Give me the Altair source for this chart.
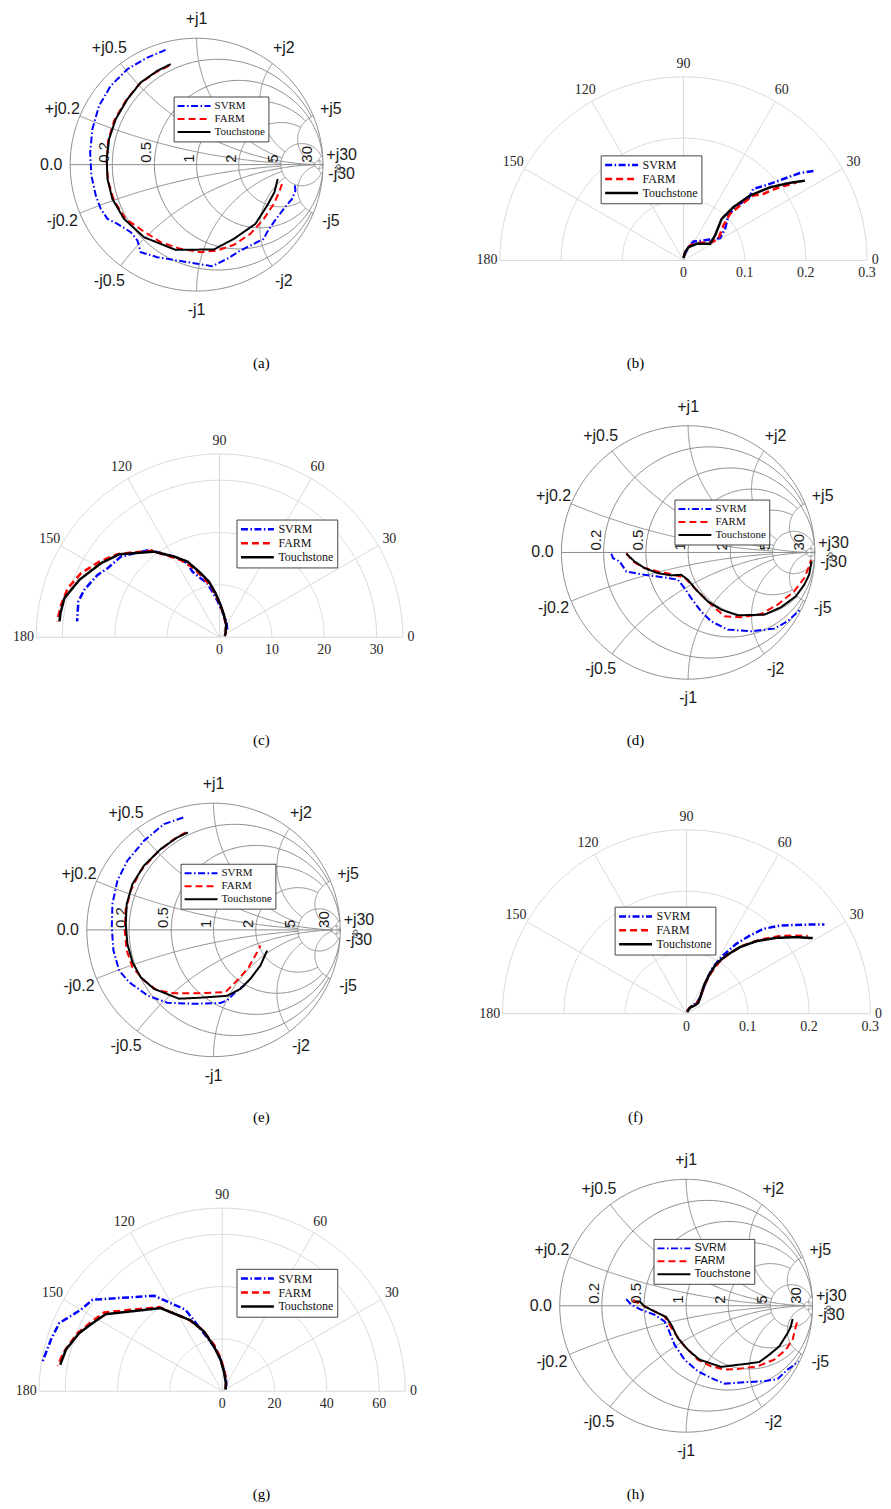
import numpy as np
import pandas as pd
import altair as alt

SERIES = ["SVRM", "FARM", "Touchstone"]
COLORS = ["#0000ff", "#ff0000", "#000000"]
DASHES = [[7, 2.5, 1.5, 2.5], [7, 4], [1, 0]]

# ---------------- Smith-chart data: reflection coefficient (real, imag) ----------------
A_SVRM_RE = [-0.245, -0.389, -0.547, -0.679, -0.771, -0.824, -0.842, -0.832, -0.797, -0.758, -0.705, -0.626, -0.521, -0.468,
             -0.442, -0.311, -0.153, 0.005, 0.124, 0.242, 0.347, 0.532, 0.558, 0.611, 0.689, 0.755, 0.782, 0.776]
A_SVRM_IM = [0.908, 0.847, 0.755, 0.624, 0.466, 0.282, 0.097, -0.087, -0.245, -0.350, -0.429, -0.468, -0.534, -0.600,
             -0.692, -0.732, -0.758, -0.784, -0.803, -0.745, -0.679, -0.587, -0.534, -0.455, -0.350, -0.271, -0.205, -0.153]
A_FARM_RE = [-0.218, -0.324, -0.455, -0.561, -0.653, -0.700, -0.711, -0.700, -0.653, -0.561, -0.429, -0.284, -0.126, 0.032,
             0.163, 0.295, 0.426, 0.532, 0.611, 0.658, 0.684]
A_FARM_IM = [0.782, 0.729, 0.637, 0.505, 0.347, 0.189, 0.032, -0.126, -0.284, -0.429, -0.521, -0.613, -0.666, -0.692,
             -0.679, -0.634, -0.547, -0.429, -0.311, -0.205, -0.126]
A_TOUCH_RE = [-0.205, -0.311, -0.442, -0.547, -0.639, -0.692, -0.711, -0.705, -0.666, -0.574, -0.416, -0.166, 0.137, 0.295,
              0.466, 0.558, 0.616, 0.642]
A_TOUCH_IM = [0.795, 0.742, 0.650, 0.518, 0.361, 0.203, 0.045, -0.113, -0.271, -0.429, -0.574, -0.674, -0.671, -0.587,
              -0.468, -0.324, -0.218, -0.113]

D_SVRM_RE = [-0.606, -0.593, -0.541, -0.488, -0.344, -0.186, -0.081, -0.029, 0.024, 0.102, 0.181, 0.312, 0.496, 0.680, 0.785, 0.885]
D_SVRM_IM = [-0.010, -0.045, -0.071, -0.150, -0.176, -0.197, -0.215, -0.281, -0.360, -0.465, -0.543, -0.609, -0.622, -0.601, -0.543, -0.451]
D_FARM_RE = [-0.488, -0.436, -0.344, -0.239, -0.134, -0.029, 0.050, 0.155, 0.286, 0.417, 0.575, 0.706, 0.837, 0.916, 0.955, 0.969]
D_FARM_IM = [-0.005, -0.071, -0.123, -0.150, -0.171, -0.197, -0.281, -0.386, -0.504, -0.512, -0.486, -0.412, -0.307, -0.202, -0.110, -0.058]
D_TOUCH_RE = [-0.488, -0.423, -0.344, -0.239, -0.134, -0.055, -0.003, 0.063, 0.155, 0.260, 0.391, 0.601, 0.732, 0.850, 0.916, 0.955, 0.974]
D_TOUCH_IM = [-0.010, -0.071, -0.123, -0.163, -0.181, -0.176, -0.215, -0.294, -0.386, -0.451, -0.496, -0.491, -0.433, -0.346, -0.255, -0.176, -0.071]

E_SVRM_RE = [-0.239, -0.391, -0.549, -0.680, -0.759, -0.798, -0.803, -0.790, -0.745, -0.667, -0.575, -0.522, -0.365, -0.155,
             0.055, 0.108, 0.160, 0.239, 0.291]
E_SVRM_IM = [0.887, 0.835, 0.703, 0.546, 0.388, 0.205, 0.021, -0.163, -0.320, -0.412, -0.478, -0.517, -0.575, -0.583,
             -0.577, -0.556, -0.504, -0.438, -0.386]
E_FARM_RE = [-0.220, -0.312, -0.444, -0.575, -0.654, -0.693, -0.701, -0.685, -0.640, -0.549, -0.444, -0.312, -0.102, 0.094,
             0.199, 0.278, 0.344, 0.370]
E_FARM_IM = [0.769, 0.717, 0.612, 0.467, 0.310, 0.152, -0.005, -0.163, -0.294, -0.399, -0.478, -0.499, -0.499, -0.491,
             -0.386, -0.294, -0.176, -0.123]
E_TOUCH_RE = [-0.202, -0.286, -0.417, -0.549, -0.640, -0.685, -0.693, -0.680, -0.640, -0.575, -0.470, -0.273, -0.102, 0.108,
              0.213, 0.291, 0.370, 0.423]
E_TOUCH_IM = [0.769, 0.730, 0.638, 0.507, 0.362, 0.205, 0.047, -0.110, -0.255, -0.373, -0.465, -0.543, -0.535, -0.520,
              -0.465, -0.386, -0.281, -0.163]

H_SVRM_RE = [-0.474, -0.434, -0.355, -0.250, -0.171, -0.145, -0.092, -0.013, 0.092, 0.197, 0.303, 0.461, 0.618, 0.724, 0.803, 0.890]
H_SVRM_IM = [0.053, 0.008, -0.032, -0.071, -0.124, -0.176, -0.308, -0.426, -0.518, -0.571, -0.616, -0.605, -0.597, -0.579, -0.505, -0.440]
H_FARM_RE = [-0.421, -0.368, -0.276, -0.171, -0.092, -0.013, 0.092, 0.197, 0.303, 0.408, 0.566, 0.697, 0.789, 0.842, 0.868, 0.882]
H_FARM_IM = [0.047, 0.016, -0.032, -0.084, -0.216, -0.321, -0.426, -0.479, -0.505, -0.500, -0.479, -0.426, -0.347, -0.268, -0.163, -0.116]
H_TOUCH_RE = [-0.403, -0.368, -0.329, -0.250, -0.158, -0.118, -0.066, 0.013, 0.105, 0.276, 0.355, 0.487, 0.579, 0.658, 0.737, 0.803, 0.829, 0.842]
H_TOUCH_IM = [0.034, 0.034, -0.005, -0.045, -0.089, -0.150, -0.255, -0.347, -0.426, -0.484, -0.474, -0.458, -0.445, -0.387, -0.321, -0.216, -0.163, -0.105]

# ---------------- Polar data: angle (deg), magnitude ----------------
B_SVRM_ANG = [82.4, 69.3, 62.2, 45.0, 38.2, 31.3, 37.2, 45.0, 45.9, 43.5, 45.7, 42.2, 39.2, 36.9, 34.3]
B_SVRM_MAG = [0.0082, 0.0232, 0.0350, 0.0461, 0.0553, 0.0700, 0.0853, 0.1038, 0.1249, 0.1461, 0.1633, 0.1835, 0.2105, 0.2379, 0.2600]
B_FARM_ANG = [90.0, 75.1, 66.0, 46.7, 32.9, 31.7, 41.2, 45.0, 44.1, 42.9, 39.8, 37.8, 34.6]
B_FARM_MAG = [0.0054, 0.0169, 0.0268, 0.0396, 0.0550, 0.0671, 0.0867, 0.1076, 0.1288, 0.1557, 0.1698, 0.1925, 0.2246]
B_TOUCH_ANG = [90.0, 78.7, 69.3, 51.3, 32.0, 38.3, 47.4, 46.9, 44.3, 40.2, 36.1, 33.3]
B_TOUCH_MAG = [0.0038, 0.0139, 0.0232, 0.0348, 0.0513, 0.0658, 0.0923, 0.1192, 0.1518, 0.1851, 0.2151, 0.2374]

C_SVRM_ANG = [45.0, 66.4, 84.1, 92.7, 99.1, 102.8, 107.7, 112.5, 113.5, 117.9, 123.6, 128.9, 135.5, 140.7, 148.3, 152.9,
              160.6, 165.7, 169.6, 173.6]
C_SVRM_MAG = [2.06, 3.32, 4.97, 6.86, 8.86, 10.60, 11.85, 13.59, 15.42, 17.22, 19.12, 21.42, 22.87, 24.33, 25.11, 26.15,
              27.36, 27.81, 27.53, 27.37]
C_FARM_ANG = [24.1, 60.9, 81.4, 91.1, 98.5, 104.8, 110.3, 116.7, 122.6, 127.8, 135.1, 140.8, 147.8, 155.2, 162.1, 168.4, 174.4]
C_FARM_MAG = [1.25, 2.61, 4.68, 6.85, 9.49, 11.68, 14.06, 16.53, 18.51, 20.88, 23.00, 25.11, 27.13, 29.14, 30.46, 30.88, 31.16]
C_TOUCH_ANG = [10.6, 35.7, 62.2, 79.2, 88.2, 95.2, 100.8, 107.4, 113.0, 119.4, 127.4, 140.4, 148.0, 157.7, 165.8, 171.3, 174.3]
C_TOUCH_MAG = [1.03, 1.41, 2.72, 4.39, 6.22, 8.47, 10.84, 13.16, 15.71, 17.69, 20.58, 24.86, 26.69, 28.92, 30.54, 30.72, 30.71]

F_SVRM_ANG = [75.7, 55.8, 46.8, 50.0, 56.3, 59.5, 60.3, 57.9, 54.5, 51.0, 47.9, 43.4, 37.4, 32.9]
F_SVRM_MAG = [0.0045, 0.0144, 0.0238, 0.0354, 0.0489, 0.0662, 0.0875, 0.1122, 0.1400, 0.1640, 0.1863, 0.2092, 0.2392, 0.2681]
F_FARM_ANG = [75.7, 59.0, 45.0, 46.5, 54.8, 58.5, 59.0, 57.7, 54.5, 50.3, 45.3, 39.8, 35.4, 32.6]
F_FARM_MAG = [0.0045, 0.0127, 0.0215, 0.0299, 0.0451, 0.0624, 0.0791, 0.0995, 0.1214, 0.1445, 0.1696, 0.1976, 0.2198, 0.2349]
F_TOUCH_ANG = [68.0, 61.1, 45.0, 42.5, 53.1, 58.6, 59.7, 59.1, 55.6, 51.3, 46.1, 40.2, 34.9, 30.9]
F_TOUCH_MAG = [0.0029, 0.0112, 0.0192, 0.0258, 0.0407, 0.0572, 0.0754, 0.0949, 0.1151, 0.1390, 0.1642, 0.1917, 0.2183, 0.2402]

G_SVRM_ANG = [49.2, 77.5, 90.0, 97.1, 104.5, 110.6, 114.2, 125.5, 144.8, 150.0, 157.3, 163.2, 170.5]
G_SVRM_MAG = [2.52, 5.86, 10.17, 15.38, 20.36, 27.16, 34.15, 44.85, 60.68, 62.37, 67.54, 68.38, 69.61]
G_FARM_ANG = [35.0, 68.1, 83.3, 92.9, 100.1, 108.0, 114.9, 126.9, 146.3, 152.3, 158.1, 165.8, 171.2]
G_FARM_MAG = [1.55, 4.11, 7.68, 12.73, 18.08, 24.73, 30.15, 40.23, 54.27, 56.70, 59.62, 62.29, 63.70]
G_TOUCH_ANG = [26.6, 66.3, 85.2, 93.0, 100.5, 107.0, 114.0, 126.5, 146.5, 152.3, 157.9, 165.1, 170.7]
G_TOUCH_MAG = [1.42, 3.47, 7.65, 12.10, 17.46, 23.93, 29.65, 39.55, 53.39, 56.02, 59.03, 61.84, 62.75]

# ---------------- grid / tick values ----------------
SMITH_VALUES = [0.2, 0.5, 1, 2, 5, 30]
SMITH_ENDS = [5, 30, 5, 5, 30, np.inf]
SMITH_LABELS = ["0.2", "0.5", "1", "2", "5", "30"]
POLAR_ANGLES = [0, 30, 60, 90, 120, 150, 180]
B_TICKS = [0, 0.1, 0.2, 0.3]
C_TICKS = [0, 10, 20, 30]
F_TICKS = [0, 0.1, 0.2, 0.3]
G_TICKS = [0, 20, 40, 60]
B_RMAX, C_RMAX, F_RMAX, G_RMAX = 0.3, 35, 0.3, 70

SANS = "Liberation Sans"
SERIF = "Liberation Serif"

# ---------------- layout ----------------
H = 340
COL_X = [8, 446]
COL_W = [437, 437]
ROW_PITCH = 378
CAP_DX = [34.5, -28.5]


def gam(z):
    return (z - 1) / (z + 1)


def smith_grid_frame():
    rows = []

    def add(gid, us, vs):
        for i, (u, v) in enumerate(zip(us, vs)):
            rows.append((gid, i, float(u), float(v)))

    t = np.linspace(0, 2 * np.pi, 361)
    add(0, np.cos(t), np.sin(t))
    add(1, [-1.0, 1.0], [0.0, 0.0])
    gid = 2
    for v, e in zip(SMITH_VALUES, SMITH_ENDS):
        c, rad = v / (1 + v), 1 / (1 + v)
        if np.isinf(e):
            p0 = 0.0
        else:
            g = gam(v + 1j * e)
            p0 = np.arctan2(g.imag, g.real - c)
        t = np.linspace(p0, 2 * np.pi - p0, 240)
        add(gid, c + rad * np.cos(t), rad * np.sin(t))
        gid += 1
        g0 = gam(1j * v)
        a0 = np.arctan2(g0.imag - 1 / v, g0.real - 1) % (2 * np.pi)
        if np.isinf(e):
            a1 = 1.5 * np.pi
        else:
            g1 = gam(e + 1j * v)
            a1 = np.arctan2(g1.imag - 1 / v, g1.real - 1) % (2 * np.pi)
        t = np.linspace(a0, a1, 200)
        xs = 1 + np.cos(t) / v
        ys = 1 / v + np.sin(t) / v
        add(gid, xs, ys)
        add(gid + 1, xs, -ys)
        gid += 2
    return pd.DataFrame(rows, columns=["g", "i", "x", "y"])


def smith_label_frames():
    rows = [(-1.15, 0.0, "0.0")]
    for v, lab in zip(SMITH_VALUES, SMITH_LABELS):
        a = np.angle(gam(1j * v))
        rows.append((1.15 * np.cos(a), 1.15 * np.sin(a), "+j" + lab))
        rows.append((1.15 * np.cos(a), -1.15 * np.sin(a), "-j" + lab))
    react = pd.DataFrame(rows, columns=["x", "y", "t"])
    res = pd.DataFrame({"x": [(v - 1) / (v + 1) for v in SMITH_VALUES], "y": 0.0, "t": SMITH_LABELS})
    inf = pd.DataFrame({"x": [1.12], "y": [-0.03], "t": ["∞"]})
    return react, res, inf


SMITH_GRID = smith_grid_frame()
SMITH_REACT, SMITH_RES, SMITH_INF = smith_label_frames()


def curve_frame(parts, kx, ky):
    rows = []
    for name, xs, ys in parts:
        for i, (u, v) in enumerate(zip(xs, ys)):
            rows.append({"s": name, "i": i, kx: u, ky: v})
    return pd.DataFrame(rows)


def make_legend(lx, ly, font, size, sw, clip):
    return alt.Legend(orient="none", legendX=lx, legendY=ly, title=None, symbolType="stroke",
                      symbolSize=1089, symbolStrokeWidth=sw, clipHeight=clip, labelFont=font,
                      labelFontSize=size, labelColor="#111111", fillColor="white", strokeColor="#444444",
                      padding=3, rowPadding=0, labelOffset=3, symbolOffset=0, labelLimit=300)


def encodings(cx, cy, s, col, row):
    ox, oy, W = COL_X[col], 8 + ROW_PITCH * row, COL_W[col]
    xs = alt.Scale(domain=[(ox - cx) / s, (ox + W - cx) / s], nice=False, zero=False)
    ys = alt.Scale(domain=[-(oy + H - cy) / s, (cy - oy) / s], nice=False, zero=False)
    return alt.X("x:Q", scale=xs, axis=None), alt.Y("y:Q", scale=ys, axis=None), W


def caption(letter, col):
    return alt.TitleParams(text="(" + letter + ")", orient="bottom", offset=6, dx=CAP_DX[col], font=SERIF,
                           fontSize=15, fontWeight="normal", color="#000000", anchor="middle")


def smith_panel(letter, parts, cx, cy, R, col, row, leg, legfont):
    X, Y, W = encodings(cx, cy, R, col, row)
    grid = alt.Chart(SMITH_GRID).mark_line(color="#8c8c8c", strokeWidth=1).encode(
        X, Y, detail="g:N", order=alt.Order("i:Q"))
    react = alt.Chart(SMITH_REACT).mark_text(font=SANS, fontSize=16, color="#1a1a1a").encode(X, Y, text="t:N")
    res = alt.Chart(SMITH_RES).mark_text(font=SANS, fontSize=15, color="#1a1a1a", angle=270, align="left",
                                         baseline="bottom", dx=2).encode(X, Y, text="t:N")
    inf = alt.Chart(SMITH_INF).mark_text(font=SANS, fontSize=13, color="#555555", angle=270).encode(X, Y, text="t:N")
    lg = make_legend(leg[0], leg[1], legfont, 11, 2, 13)
    lines = alt.Chart(curve_frame(parts, "x", "y")).mark_line(strokeWidth=2).encode(
        X, Y,
        color=alt.Color("s:N", scale=alt.Scale(domain=SERIES, range=COLORS), legend=lg),
        strokeDash=alt.StrokeDash("s:N", scale=alt.Scale(domain=SERIES, range=DASHES), legend=lg),
        order=alt.Order("i:Q"))
    return alt.layer(grid, react, res, inf, lines).properties(width=W, height=H, title=caption(letter, col))


def polar_panel(letter, parts, ticks, rmax, cx, cy, Rpx, col, row, leg):
    X, Y, W = encodings(cx, cy, Rpx / rmax, col, row)
    rings = [t for t in ticks if t > 0] + ([rmax] if rmax not in ticks else [])
    rows = []
    gid = 0
    t = np.linspace(0, np.pi, 181)
    for r in rings:
        for i, a in enumerate(t):
            rows.append((gid, i, r * np.cos(a), r * np.sin(a)))
        gid += 1
    for a in POLAR_ANGLES:
        ar = np.radians(a)
        rows.append((gid, 0, 0.0, 0.0))
        rows.append((gid, 1, rmax * np.cos(ar), rmax * np.sin(ar)))
        gid += 1
    gdf = pd.DataFrame(rows, columns=["g", "i", "x", "y"])
    grid = alt.Chart(gdf).mark_line(color="#d9d9d9", strokeWidth=1).encode(
        X, Y, detail="g:N", order=alt.Order("i:Q"))
    fac = [1.045 if a == 0 else 1.07 for a in POLAR_ANGLES]
    adf = pd.DataFrame({"x": [f * rmax * np.cos(np.radians(a)) for f, a in zip(fac, POLAR_ANGLES)],
                        "y": [f * rmax * np.sin(np.radians(a)) for f, a in zip(fac, POLAR_ANGLES)],
                        "t": [str(a) for a in POLAR_ANGLES]})
    alab = alt.Chart(adf).mark_text(font=SERIF, fontSize=14, color="#262626").encode(X, Y, text="t:N")
    rdf = pd.DataFrame({"x": ticks, "y": 0.0, "t": [f"{v:g}" for v in ticks]})
    rlab = alt.Chart(rdf).mark_text(font=SERIF, fontSize=14, color="#262626", dy=13).encode(X, Y, text="t:N")
    lg = make_legend(leg[0], leg[1], SERIF, 12, 2.5, 13.5)
    lines = alt.Chart(curve_frame(parts, "ang", "mag")).transform_calculate(
        x="datum.mag * cos(datum.ang * PI / 180)", y="datum.mag * sin(datum.ang * PI / 180)"
    ).mark_line(strokeWidth=2.5).encode(
        X, Y,
        color=alt.Color("s:N", scale=alt.Scale(domain=SERIES, range=COLORS), legend=lg),
        strokeDash=alt.StrokeDash("s:N", scale=alt.Scale(domain=SERIES, range=DASHES), legend=lg),
        order=alt.Order("i:Q"))
    return alt.layer(grid, alab, rlab, lines).properties(width=W, height=H, title=caption(letter, col))


pa = smith_panel("a", [("SVRM", A_SVRM_RE, A_SVRM_IM), ("FARM", A_FARM_RE, A_FARM_IM), ("Touchstone", A_TOUCH_RE, A_TOUCH_IM)],
                 196, 162.3, 126.7, 0, 0, (165, 86), SERIF)
pb = polar_panel("b", [("SVRM", B_SVRM_ANG, B_SVRM_MAG), ("FARM", B_FARM_ANG, B_FARM_MAG), ("Touchstone", B_TOUCH_ANG, B_TOUCH_MAG)],
                 B_TICKS, B_RMAX, 684, 258.3, 184, 1, 0, (155, 145))
pc = polar_panel("c", [("SVRM", C_SVRM_ANG, C_SVRM_MAG), ("FARM", C_FARM_ANG, C_FARM_MAG), ("Touchstone", C_TOUCH_ANG, C_TOUCH_MAG)],
                 C_TICKS, C_RMAX, 219, 636, 183.7, 0, 1, (228, 132))
pd_ = smith_panel("d", [("SVRM", D_SVRM_RE, D_SVRM_IM), ("FARM", D_FARM_RE, D_FARM_IM), ("Touchstone", D_TOUCH_RE, D_TOUCH_IM)],
                  688.7, 551, 127, 1, 1, (229, 112), SERIF)
pe = smith_panel("e", [("SVRM", E_SVRM_RE, E_SVRM_IM), ("FARM", E_FARM_RE, E_FARM_IM), ("Touchstone", E_TOUCH_RE, E_TOUCH_IM)],
                 213, 929.3, 127, 0, 2, (172, 99), SERIF)
pf = polar_panel("f", [("SVRM", F_SVRM_ANG, F_SVRM_MAG), ("FARM", F_FARM_ANG, F_FARM_MAG), ("Touchstone", F_TOUCH_ANG, F_TOUCH_MAG)],
                 F_TICKS, F_RMAX, 687, 1013.3, 184.3, 1, 2, (169, 142))
pg = polar_panel("g", [("SVRM", G_SVRM_ANG, G_SVRM_MAG), ("FARM", G_FARM_ANG, G_FARM_MAG), ("Touchstone", G_TOUCH_ANG, G_TOUCH_MAG)],
                 G_TICKS, G_RMAX, 221.7, 1391.7, 183.5, 0, 3, (228, 127))
ph = smith_panel("h", [("SVRM", H_SVRM_RE, H_SVRM_IM), ("FARM", H_FARM_RE, H_FARM_IM), ("Touchstone", H_TOUCH_RE, H_TOUCH_IM)],
                 686.7, 1306, 126.7, 1, 3, (208, 97), SANS)

chart = alt.concat(pa, pb, pc, pd_, pe, pf, pg, ph, columns=2, spacing={"row": ROW_PITCH - H, "column": 1},
                   bounds="flush").resolve_scale(
    x="independent", y="independent", color="independent", strokeDash="independent"
).resolve_legend(color="independent", strokeDash="independent").properties(
    padding=0, background="white"
).configure_view(stroke="transparent")

chart.save("out.html", embed_options={"renderer": "svg", "actions": False})
